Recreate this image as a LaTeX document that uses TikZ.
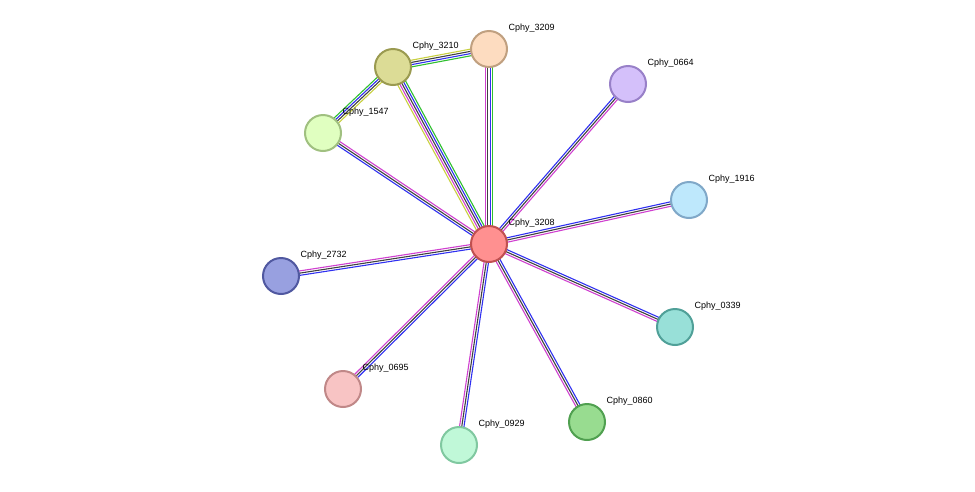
\documentclass[tikz,border=0pt]{standalone}
\usepackage{fontspec}
\setmainfont{Liberation Sans}
\usetikzlibrary{calc,backgrounds}
\definecolor{eb}{HTML}{3030F0}
\definecolor{ek}{HTML}{404040}
\definecolor{em}{HTML}{D040D0}
\definecolor{eg}{HTML}{30C030}
\definecolor{ey}{HTML}{C8D040}
\newcommand\medge[4]{\foreach \c [count=\i] in {#4}{\pgfmathsetmacro\o{(\i-(#3+1)/2)*2.2}\draw[\c,line width=1.1pt] ($(#1)!\o pt!90:(#2)$) -- ($(#2)!\o pt!-90:(#1)$);}}
\tikzset{prot/.style n args={2}{circle,minimum size=36pt,inner sep=0,line width=2pt,fill=#1,draw=#2},
lab/.style={anchor=west,font=\fontsize{9}{10}\selectfont}}
\begin{document}
\begin{tikzpicture}[x=1pt,y=-1pt]
\useasboundingbox (0,0) rectangle (975,491);
\def\nd#1#2#3#4#5{\node[prot={#4}{#5}] (#1) at (#2,#3) {}; \node[lab] (l#1) at (#2+16,#3-21) {Cphy\_#1};}
\definecolor{c1}{HTML}{FF9090}\definecolor{d1}{HTML}{C05050}
\definecolor{c2}{HTML}{FDDCC0}\definecolor{d2}{HTML}{C0A080}
\definecolor{c3}{HTML}{DCDC96}\definecolor{d3}{HTML}{9A9A50}
\definecolor{c4}{HTML}{E0FFC0}\definecolor{d4}{HTML}{A0C080}
\definecolor{c5}{HTML}{D4C0FA}\definecolor{d5}{HTML}{9880C8}
\definecolor{c6}{HTML}{BEE8FC}\definecolor{d6}{HTML}{80A8C8}
\definecolor{c7}{HTML}{98A0E0}\definecolor{d7}{HTML}{5058A0}
\definecolor{c8}{HTML}{98E0D8}\definecolor{d8}{HTML}{50A098}
\definecolor{c9}{HTML}{F8C4C4}\definecolor{d9}{HTML}{C08888}
\definecolor{c10}{HTML}{C0F8D8}\definecolor{d10}{HTML}{80C8A0}
\definecolor{c11}{HTML}{98DC90}\definecolor{d11}{HTML}{50A050}
\nd{3208}{489}{244}{c1}{d1}
\nd{3209}{489}{49}{c2}{d2}
\nd{3210}{393}{67}{c3}{d3}
\nd{1547}{323}{133}{c4}{d4}
\nd{0664}{628}{84}{c5}{d5}
\nd{1916}{689}{200}{c6}{d6}
\nd{2732}{281}{276}{c7}{d7}
\nd{0339}{675}{327}{c8}{d8}
\nd{0695}{343}{389}{c9}{d9}
\nd{0929}{459}{445}{c10}{d10}
\nd{0860}{587}{422}{c11}{d11}
\begin{scope}[on background layer]
\medge{3210}{3209}{4}{eg,eb,ek,ey}
\medge{1547}{3210}{4}{ey,ek,eb,eg}
\medge{3210}{3208}{5}{ey,em,ek,eb,eg}
\medge{3209}{3208}{4}{em,ek,eb,eg}
\medge{1547}{3208}{3}{eb,ek,em}
\medge{3208}{0664}{3}{em,ek,eb}
\medge{3208}{1916}{3}{em,ek,eb}
\medge{3208}{0339}{3}{em,ek,eb}
\medge{3208}{0860}{3}{em,ek,eb}
\medge{3208}{0929}{3}{em,ek,eb}
\medge{3208}{0695}{3}{em,ek,eb}
\medge{3208}{2732}{3}{em,ek,eb}
\end{scope}
\end{tikzpicture}
\end{document}
